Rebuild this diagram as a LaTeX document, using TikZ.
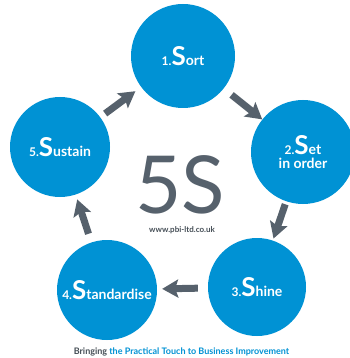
\documentclass[tikz,border=0pt]{standalone}
\usepackage{fontspec}
\setmainfont{Lato}[BoldFont={Lato Bold}]
\usetikzlibrary{arrows.meta}
\definecolor{pbiblue}{RGB}{0,146,212}
\definecolor{pbigrey}{RGB}{86,97,108}
\newcommand\fivestxt[3]{{\fontsize{12}{12}\selectfont #1}{\fontsize{26}{26}\selectfont #2}#3}
\begin{document}
\begin{tikzpicture}[x=1pt,y=-1pt,
  stage/.style={circle, fill=pbiblue, text=white, minimum size=#1, inner sep=0pt,
    font=\bfseries\fontsize{14}{14.5}\selectfont, align=center},
  cyc/.style={draw=pbigrey, line width=7pt, -{Stealth[width=18pt,length=16pt,inset=3pt]}}]
\useasboundingbox[fill=white] (0,0) rectangle (349,358);
\node[stage=104] (sort) at (183,56) {\fivestxt{1.}{S}{ort}};
\node[stage=104] (set) at (303,152) {\fivestxt{2.}{S}{et}\\in order};
\node[stage=98] (shine) at (257,287) {\fivestxt{3.}{S}{hine}};
\node[stage=100] (std) at (107,290) {\fivestxt{4.}{S}{tandardise}};
\node[stage=100] (sus) at (60,147) {\fivestxt{5.}{S}{ustain}};
\draw[cyc, shorten <=10pt, shorten >=0pt] (sort) -- (set);
\draw[cyc, shorten <=3pt, shorten >=2pt] (set) -- (shine);
\draw[cyc, shorten <=10pt, shorten >=5pt] (shine) -- (std);
\draw[cyc, shorten <=9pt, shorten >=5pt] (std) -- (sus);
\draw[cyc, shorten <=6pt, shorten >=7pt] (sus) -- (sort);
\node[text=pbigrey, font=\fontsize{80}{80}\selectfont, anchor=base, inner sep=0pt, text depth=0pt] (five) at (180,213) {5S};
\node[text=pbigrey!80!black, font=\bfseries\fontsize{8}{10}\selectfont, anchor=base, inner sep=0pt] (url) at (182,232) {www.pbi-ltd.co.uk};
\node[font=\bfseries\fontsize{9}{11}\selectfont, anchor=base, inner sep=0pt] (tag) at (181.5,354)
  {\textcolor{pbigrey!80!black}{Bringing} \textcolor{pbiblue}{the Practical Touch to Business Improvement}};
\end{tikzpicture}
\end{document}
